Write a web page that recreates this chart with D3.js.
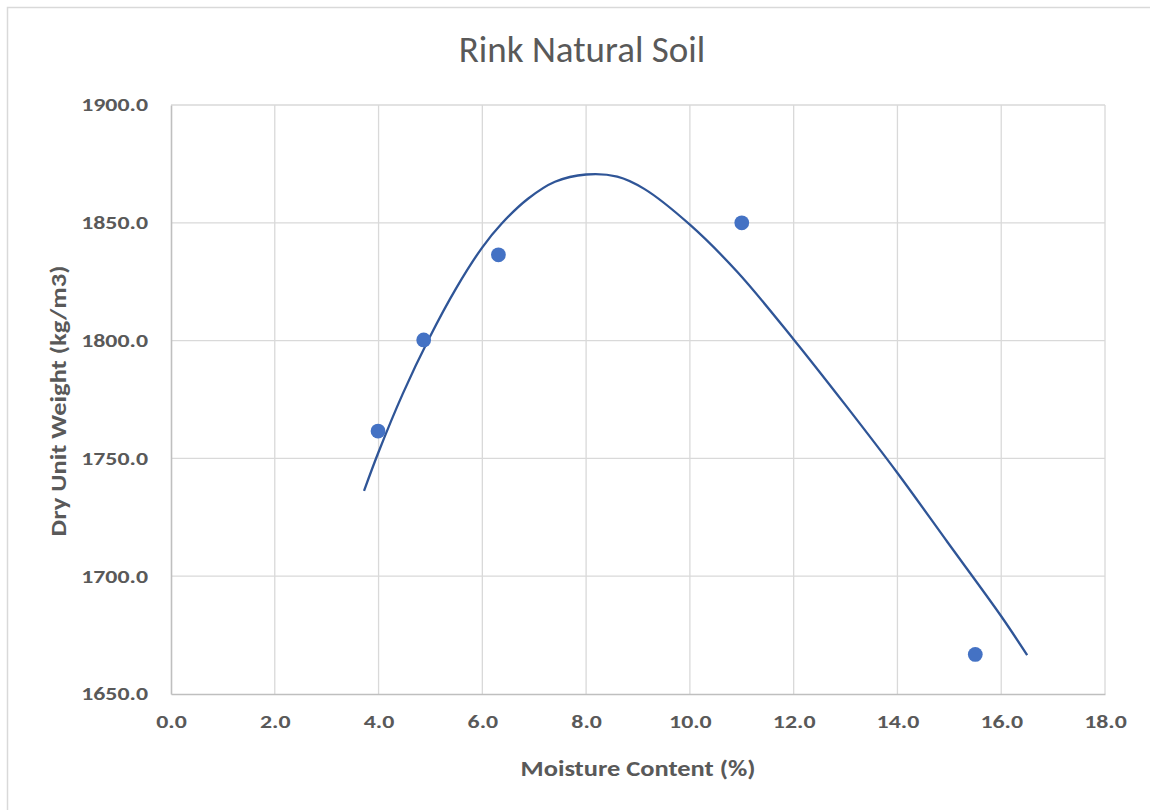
<!DOCTYPE html>
<html>
<head>
<meta charset="utf-8">
<script src="https://cdn.jsdelivr.net/npm/d3@7"></script>
<style>
  html, body { margin: 0; padding: 0; background: #fff; }
  svg { display: block; }
</style>
</head>
<body>
<svg id="chart" width="1150" height="810"></svg>
<script>
// Compaction test results
const moisture = [3.99, 4.87, 6.31, 11.0, 15.5];
const dryUnitWeight = [1761.6, 1800.3, 1836.4, 1850.0, 1666.8];

// Fitted compaction curve, sampled along its length
const trendMoisture = [3.72, 4.0, 4.47, 4.97, 5.5, 6.0, 6.37, 6.88, 7.4, 8.0, 8.6, 9.12, 10.0, 10.92, 12.0, 13.0, 14.0, 14.97, 16.0, 16.5];
const trendWeight = [1736.2, 1752.7, 1777.6, 1800.8, 1822.4, 1839.6, 1849.6, 1860.2, 1867.4, 1870.5, 1869.6, 1864.4, 1849.2, 1829.0, 1800.5, 1772.6, 1743.8, 1714.3, 1683.0, 1666.5];

// Axis ticks
const xTicks = [0, 2, 4, 6, 8, 10, 12, 14, 16, 18];
const yTicks = [1650, 1700, 1750, 1800, 1850, 1900];

const svg = d3.select("#chart");
const W = 1150, H = 810;
const plot = { left: 171, top: 105, right: 1105, bottom: 694 };

const x = d3.scaleLinear().domain([0, 18]).range([plot.left, plot.right]);
const y = d3.scaleLinear().domain([1650, 1900]).range([plot.bottom, plot.top]);

const textColor = "#595959";
const font = "Carlito, Calibri, 'Open Sans', sans-serif";
const tickStretch = 1.29;
const labelStretch = 1.15;

// outer chart border
svg.append("rect")
  .attr("x", 7.5).attr("y", 7.5)
  .attr("width", W + 20).attr("height", H + 20)
  .attr("fill", "none").attr("stroke", "#d9d9d9").attr("stroke-width", 1.5);

// title
svg.append("text")
  .attr("x", 582).attr("y", 62)
  .attr("text-anchor", "middle")
  .attr("font-family", font)
  .attr("font-size", 37)
  .attr("fill", textColor)
  .text("Rink Natural Soil");

// gridlines
const grid = svg.append("g");
grid.selectAll("line.v").data(xTicks.slice(1)).join("line")
  .attr("x1", d => x(d)).attr("x2", d => x(d))
  .attr("y1", plot.top).attr("y2", plot.bottom)
  .attr("stroke", "#d9d9d9").attr("stroke-width", 1.3);
grid.selectAll("line.h").data(yTicks.slice(1)).join("line")
  .attr("x1", plot.left).attr("x2", plot.right)
  .attr("y1", d => y(d)).attr("y2", d => y(d))
  .attr("stroke", "#d9d9d9").attr("stroke-width", 1.3);

// axes
const xAxis = d3.axisBottom(x).tickValues(xTicks).tickFormat(d3.format(".1f")).tickSize(0).tickPadding(21);
const yAxis = d3.axisLeft(y).tickValues(yTicks).tickFormat(d3.format(".1f")).tickSize(0).tickPadding(23);

const gx = svg.append("g").attr("transform", `translate(0,${plot.bottom})`).call(xAxis);
const gy = svg.append("g").attr("transform", `translate(${plot.left},0)`).call(yAxis);
[gx, gy].forEach(g => {
  g.select(".domain").attr("stroke", "#bfbfbf").attr("stroke-width", 1.6);
  g.selectAll("text")
    .attr("font-family", font)
    .attr("font-weight", "bold")
    .attr("font-size", 18.5)
    .attr("fill", textColor);
});
gx.selectAll(".tick text").attr("transform", `scale(${tickStretch},1)`);
gy.selectAll(".tick text")
  .attr("x", -23 / tickStretch)
  .attr("transform", `scale(${tickStretch},1)`);

// axis titles
svg.append("text")
  .attr("transform", `translate(638,776) scale(${labelStretch},1)`)
  .attr("text-anchor", "middle")
  .attr("font-family", font).attr("font-weight", "bold")
  .attr("font-size", 23).attr("fill", textColor)
  .text("Moisture Content (%)");
svg.append("text")
  .attr("transform", `translate(66,401) rotate(-90) scale(${labelStretch},1)`)
  .attr("text-anchor", "middle")
  .attr("font-family", font).attr("font-weight", "bold")
  .attr("font-size", 23).attr("fill", textColor)
  .text("Dry Unit Weight (kg/m3)");

// compaction curve
svg.append("path")
  .datum(trendMoisture.map((m, i) => [m, trendWeight[i]]))
  .attr("d", d3.line().x(d => x(d[0])).y(d => y(d[1])).curve(d3.curveCatmullRom.alpha(0.5)))
  .attr("fill", "none")
  .attr("stroke", "#2f5597")
  .attr("stroke-width", 2.3);

// data points
svg.append("g").selectAll("circle")
  .data(moisture.map((m, i) => [m, dryUnitWeight[i]]))
  .join("circle")
  .attr("cx", d => x(d[0])).attr("cy", d => y(d[1]))
  .attr("r", 7.4)
  .attr("fill", "#4472c4");
</script>
</body>
</html>
